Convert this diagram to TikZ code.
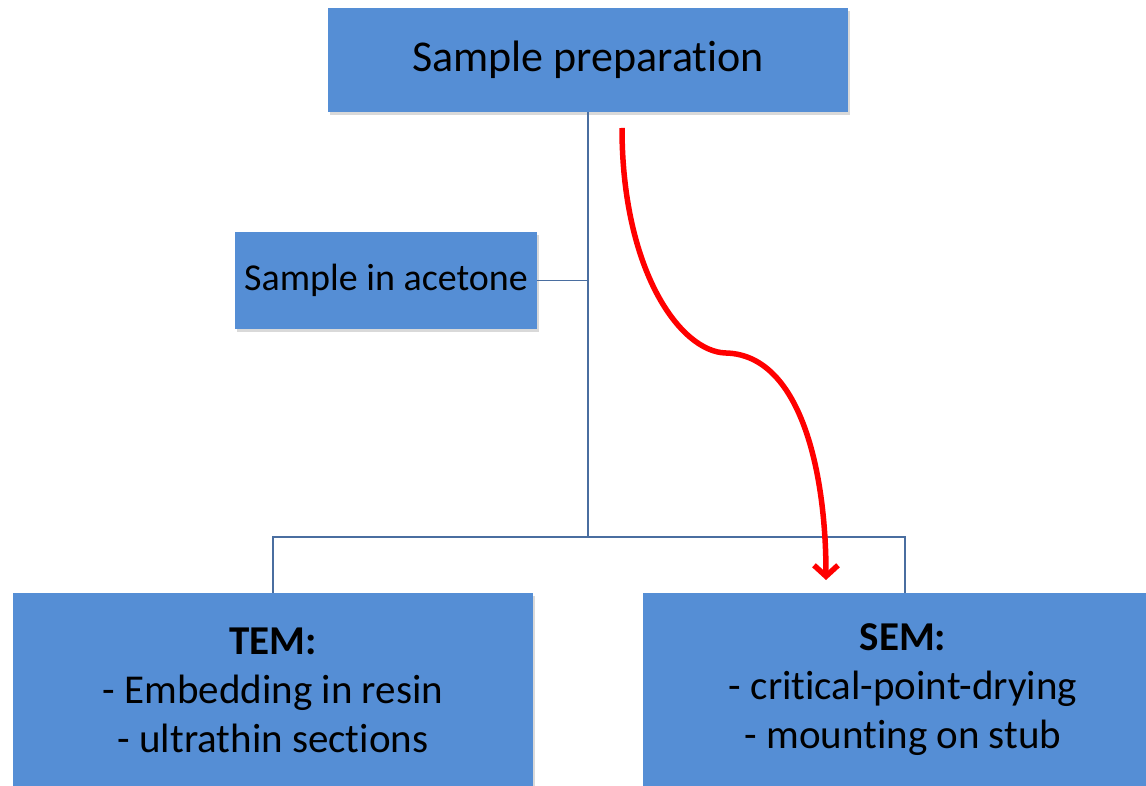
\documentclass[tikz,border=0pt]{standalone}
\usepackage{fontspec}
\setmainfont[Ligatures=NoCommon]{Carlito}
\usetikzlibrary{arrows.meta,shadows}
\definecolor{boxblue}{RGB}{85,142,213}
\definecolor{linkblue}{RGB}{74,110,160}

\begin{document}
\begin{tikzpicture}[x=1pt, y=-1pt,
    box/.style={rectangle, fill=boxblue, inner sep=0pt, align=center, drop shadow={opacity=0.3, shadow xshift=2pt, shadow yshift=-3pt}},
    link/.style={draw=linkblue, line width=1.6pt},
    redarrow/.style={draw=red, line width=5.5pt, -{Straight Barb[length=11pt,width=24pt]}}]
    \useasboundingbox (0,0) rectangle (1146,786);
    % Nodes
    \node[box, minimum width=520pt, minimum height=104pt, font=\fontsize{44}{53}\selectfont] (prep) at (588,60) {Sample preparation};
    \node[box, minimum width=302pt, minimum height=97pt, font=\fontsize{38}{46}\selectfont] (acetone) at (386,280.5) {Sample in acetone};
    \node[box, minimum width=520pt, minimum height=194pt, font=\fontsize{41}{49}\selectfont] (tem) at (273,690) {\textbf{TEM:}\\- Embedding in resin\\- ultrathin sections};
    \node[box, minimum width=520pt, minimum height=194pt, font=\fontsize{41}{49}\selectfont] (sem) at (903,690) {\textbf{SEM:}\\- critical-point-drying\\- mounting on stub};
    \coordinate (split) at (588,537);
    \coordinate (right) at (905,537);
    \coordinate (start) at (622,128);
    \coordinate (goal) at (826,580);
    % Edges
    \draw[link] (prep.south) -- (split);
    \draw[link] (acetone.east) -- (acetone.east -| split);
    \draw[link] (tem.north) |- (split) -- (right) -- (right |- sem.north);
    \draw[redarrow] (start) .. controls (622,270) and (680,352) .. (726,353) .. controls (800,355) and (826,470) .. (goal);
\end{tikzpicture}
\end{document}
